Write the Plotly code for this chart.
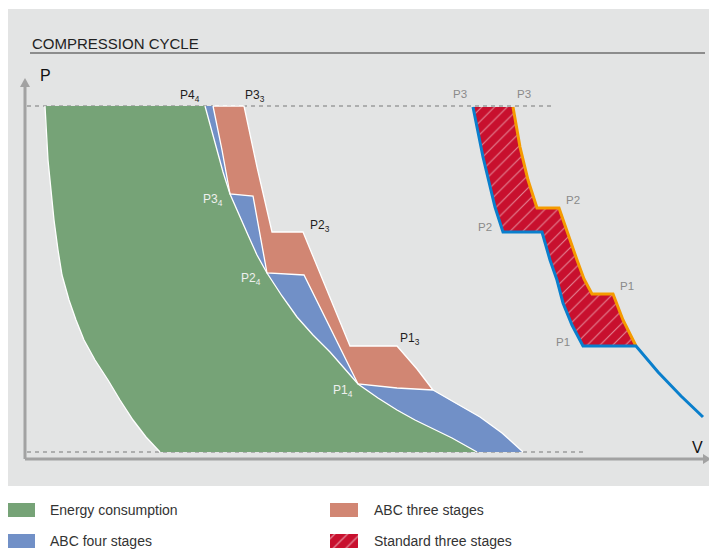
import plotly.graph_objects as go

# ---- data (V = volume, P = pressure; arbitrary units, origin at axis corner) ----
P_HIGH = 353
P_LOW = 7

# left boundary of the energy-consumption area
green_left_V = [20, 21, 23, 26, 29, 33, 37, 44, 51, 59, 70, 83, 95, 108, 121, 135]
green_left_P = [353, 329, 299, 269, 239, 209, 184, 159, 139, 119, 99, 79, 59, 39, 22, 7]

# ideal (isothermal) compression curve
iso_V = [180, 186, 192, 198, 205, 214, 223, 232, 242, 257, 272, 288, 305, 319, 333, 353, 372, 390, 408, 427, 452]
iso_P = [353, 331, 309, 287, 265, 244, 224, 204, 186, 163, 142, 124, 107, 91, 75, 61, 49, 39, 30, 21, 7]

# ABC four stages: stepped boundary and low-pressure curve
abc4_V = [180, 188, 197, 205, 228, 242, 279, 333, 372, 408]
abc4_P = [353, 353, 309, 265, 263, 186, 184, 75, 71, 69]
outer_V = [408, 430, 455, 477, 498]
outer_P = [69, 56, 42, 26, 7]

# ABC three stages outline
abc3_V = [188, 219, 232, 247, 278, 291, 305, 325, 372, 392, 408, 372, 333, 279, 242, 228, 205, 197]
abc3_P = [353, 353, 292, 227, 227, 195, 161, 113, 113, 90, 69, 71, 75, 184, 186, 263, 265, 309]

# Standard three stages: lower (blue) and upper (orange) paths
std_low_V = [448, 453, 458, 464, 470, 478, 517, 525, 532, 538, 547, 558, 611, 633, 656, 678]
std_low_P = [352, 327, 302, 277, 252, 227, 227, 199, 179, 156, 134, 113, 113, 87, 63, 42]
std_high_V = [488, 495, 503, 512, 534, 543, 552, 559, 567, 588, 598, 611]
std_high_P = [352, 312, 279, 251, 251, 224, 199, 180, 165, 165, 139, 113]

# stage labels
black_labels = ["P4<sub>4</sub>", "P3<sub>3</sub>", "P2<sub>3</sub>", "P1<sub>3</sub>"]
black_V = [165, 230, 295, 385]
black_P = [363, 363, 233, 120]
white_labels = ["P3<sub>4</sub>", "P2<sub>4</sub>", "P1<sub>4</sub>"]
white_V = [188, 226, 318]
white_P = [259, 180, 68]
gray_labels = ["P3", "P3", "P2", "P2", "P1", "P1"]
gray_V = [435, 499, 548, 460, 602, 538]
gray_P = [365, 365, 259, 232, 173, 117]

legend_labels = ["Energy consumption", "ABC four stages", "ABC three stages", "Standard three stages"]

GREEN = "#76a377"
BLUE_F = "#7190c7"
RED_F = "#d18673"
STD_RED = "#c8102e"
LINE_BLUE = "#0a7fcc"
LINE_ORANGE = "#f59b00"
AXIS = "#a2a2a2"
FONT = "Liberation Sans, Arial, sans-serif"

fig = go.Figure()


def poly(xs, ys, color, **kw):
    fig.add_trace(go.Scatter(x=xs, y=ys, mode="lines", fill="toself", fillcolor=color,
                             line=dict(width=0, color=color), hoverinfo="skip", **kw))


def line(xs, ys, color, width, dash=None):
    fig.add_trace(go.Scatter(x=xs, y=ys, mode="lines",
                             line=dict(color=color, width=width, dash=dash), hoverinfo="skip"))


# dashed pressure levels
line([2, 530], [P_HIGH, P_HIGH], "#9c9c9c", 1.5, "4px,4px")
line([2, 561], [P_LOW, P_LOW], "#9c9c9c", 1.5, "4px,4px")

# ABC four stages (blue) area
poly(abc4_V + outer_V[1:] + iso_V[::-1], abc4_P + outer_P[1:] + iso_P[::-1], BLUE_F)
# energy consumption (green)
poly(green_left_V[:1] + iso_V + green_left_V[::-1], green_left_P[:1] + iso_P + green_left_P[::-1], GREEN)
# ABC three stages (salmon)
fig.add_trace(go.Scatter(x=abc3_V + abc3_V[:1], y=abc3_P + abc3_P[:1], mode="lines", fill="toself",
                         fillcolor=RED_F, line=dict(color="white", width=1.3), hoverinfo="skip"))
# white contour lines
line(green_left_V, green_left_P, "white", 1.3)
line(iso_V, iso_P, "white", 1.3)
line(outer_V, outer_P, "white", 1.3)

# standard three stages (hatched)
std_poly_V = std_low_V[:13] + std_high_V[::-1]
std_poly_P = std_low_P[:13] + std_high_P[::-1]
fig.add_trace(go.Scatter(x=std_poly_V, y=std_poly_P, mode="lines", fill="toself",
                         fillcolor=STD_RED, line=dict(width=0),
                         fillpattern=dict(shape="/", fgcolor="white", bgcolor=STD_RED, size=9, solidity=0.12),
                         hoverinfo="skip"))
line(std_high_V, std_high_P, LINE_ORANGE, 3)
line(std_low_V, std_low_P, LINE_BLUE, 3)

# axes with arrows
line([0, 0], [0, 374], AXIS, 3)
line([0, 680], [0, 0], AXIS, 3)
poly([-5, 5, 0], [372, 372, 381], AXIS)
poly([678, 678, 686], [-5, 5, 0], AXIS)

# legend swatches
poly([-18, 10, 10, -18], [-44, -44, -58, -58], GREEN)
poly([-18, 10, 10, -18], [-75, -75, -89, -89], BLUE_F)
poly([305, 333, 333, 305], [-44, -44, -58, -58], RED_F)
fig.add_trace(go.Scatter(x=[305, 333, 333, 305], y=[-75, -75, -89, -89], mode="lines", fill="toself",
                         fillcolor=STD_RED, line=dict(width=0),
                         fillpattern=dict(shape="/", fgcolor="white", bgcolor=STD_RED, size=9, solidity=0.15),
                         hoverinfo="skip"))

ann = []
for t, v, p in zip(black_labels, black_V, black_P):
    ann.append(dict(x=v, y=p, text=t, font=dict(size=12, color="#1e1e1e", family=FONT)))
for t, v, p in zip(white_labels, white_V, white_P):
    ann.append(dict(x=v, y=p, text=t, font=dict(size=12, color="#eef0ee", family=FONT)))
for t, v, p in zip(gray_labels, gray_V, gray_P):
    ann.append(dict(x=v, y=p, text=t, font=dict(size=11.5, color="#8a8a8a", family=FONT)))
ann.append(dict(x=20, y=384, text="P", font=dict(size=16, color="#111", family=FONT)))
ann.append(dict(x=672, y=12, text="V", font=dict(size=16, color="#111", family=FONT)))
ann.append(dict(x=5, y=416, text="COMPRESSION CYCLE", xanchor="left",
                font=dict(size=15, color="#222", family=FONT)))
for t, v, p in zip(legend_labels, [23, 23, 347, 347], [-51, -82, -51, -82]):
    ann.append(dict(x=v, y=p, text=t, xanchor="left", font=dict(size=14, color="#333", family=FONT)))
for a in ann:
    a.update(xref="x", yref="y", showarrow=False)

# the page places the figure 8px from the window's top-left corner
fig.update_layout(
    width=709, height=541, autosize=False,
    margin=dict(l=0, r=0, t=0, b=0, pad=0),
    paper_bgcolor="white", plot_bgcolor="white",
    showlegend=False,
    xaxis=dict(range=[-17, 692], visible=False, fixedrange=True),
    yaxis=dict(range=[-90, 451], visible=False, fixedrange=True),
    annotations=ann,
    shapes=[
        dict(type="rect", xref="x", yref="y", x0=-19, x1=692, y0=-27, y1=450,
             fillcolor="#e3e4e4", line=dict(width=0), layer="below"),
        dict(type="line", xref="x", yref="y", x0=5, x1=680, y0=406, y1=406,
             line=dict(color="#6f6f6f", width=1.3), layer="below"),
    ],
)

fig.write_html("out.html")
